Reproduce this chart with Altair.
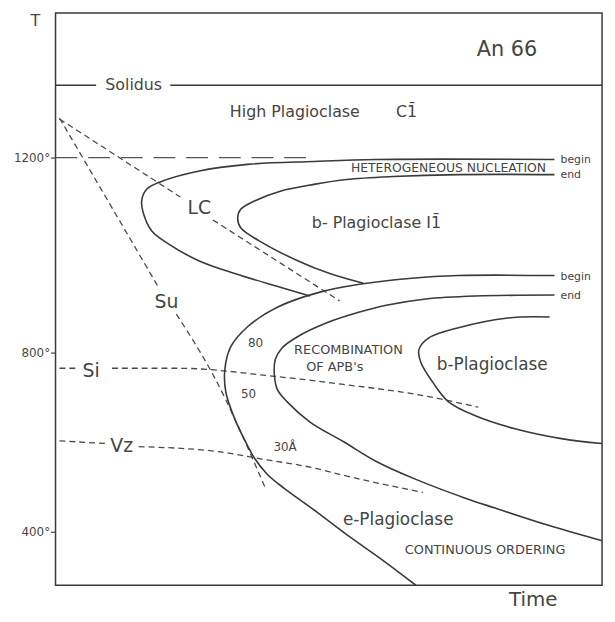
import altair as alt
import pandas as pd

# ---------------- data (time: arbitrary 0-100, temperature: °C) ----------------
HN_BEGIN_TIME = [91.30, 58.70, 47.28, 35.14, 26.09, 19.38, 16.67, 15.76, 16.12, 17.57, 20.65, 26.09, 32.79, 41.12, 46.56]
HN_BEGIN_TEMP = [1196, 1196, 1192, 1186, 1172, 1151, 1135, 1111, 1084, 1050, 1023, 989, 962, 934, 916]

HN_END_TIME = [91.30, 73.73, 61.78, 53.26, 47.28, 41.12, 36.41, 33.88, 33.33, 33.88, 38.22, 44.20, 50.18, 56.34]
HN_END_TEMP = [1165, 1165, 1161, 1155, 1145, 1131, 1111, 1094, 1076, 1056, 1023, 989, 962, 942]

APB_BEGIN_TIME = [91.30, 73.73, 64.67, 55.62, 48.37, 40.58, 35.14, 32.07, 30.98, 31.16, 32.79, 35.14,
                  36.41, 38.77, 41.85, 47.83, 53.80, 59.96, 65.94]
APB_BEGIN_TEMP = [958, 958, 952, 940, 924, 893, 853, 812, 762, 712, 652, 592,
                  564, 528, 497, 444, 389, 336, 281]

APB_END_TIME = [91.30, 76.81, 67.75, 60.51, 55.62, 49.64, 44.20, 41.49, 40.22, 40.04, 40.58, 42.39,
                46.56, 52.72, 58.70, 65.94, 75.00, 80.43, 90.04, 100]
APB_END_TEMP = [918, 916, 910, 897, 883, 861, 832, 810, 785, 751, 718, 690,
                645, 601, 557, 517, 475, 453, 415, 380]

BPLAG_TIME = [90.40, 82.79, 73.73, 68.30, 66.49, 66.85, 69.02, 71.92, 76.81, 84.06, 92.57, 100]
BPLAG_TEMP = [873, 871, 851, 830, 806, 778, 734, 690, 659, 630, 608, 597]

SOLIDUS_TEMP = 1348
SOLIDUS_LEFT_TIME = [0, 7.43]
SOLIDUS_RIGHT_TIME = [21.0, 100]

LINE_1200_TIME = [0, 47.5]
LINE_1200_TEMP = [1200, 1200]

LC_A_TIME = [0.72, 22.83]
LC_A_TEMP = [1279, 1119]
LC_B_TIME = [28.80, 51.99]
LC_B_TEMP = [1072, 906]

SU_A_TIME = [0.72, 18.84]
SU_A_TEMP = [1281, 934]
SU_B_TIME = [22.10, 28.80, 38.41]
SU_B_TEMP = [879, 751, 497]

SI_A_TIME = [0.72, 4.35]
SI_A_TEMP = [765, 765]
SI_B_TIME = [10.33, 22.46, 40.04, 52.72, 67.75, 77.36]
SI_B_TEMP = [765, 765, 747, 729, 703, 678]

VZ_A_TIME = [0.72, 9.24]
VZ_A_TEMP = [603, 597]
VZ_B_TIME = [15.22, 29.71, 37.50, 47.83, 52.72, 67.21]
VZ_B_TEMP = [590, 579, 563, 541, 526, 488]

Y_TICKS = [400, 800, 1200]
Y_DOMAIN = [281, 400, 800, 1200, 1496]
Y_RANGE = [578, 524, 343, 146, 0]

# labels: (text, time, temp)
BIG_LABELS = [("LC", 26.3, 1096), ("Su", 20.3, 904), ("Si", 6.5, 758), ("Vz", 12.1, 592)]
PHASE_CENTER = [("b-Plagioclase", 79.9, 773), ("e-Plagioclase", 62.7, 426)]
PHASE_LEFT = [("b- Plagioclase  I1\u0304", 46.9, 1066), ("High Plagioclase", 31.9, 1293), ("C1\u0304", 62.3, 1293)]
SOLIDUS_LABEL = [("Solidus", 14.3, 1348)]
TITLE_LABEL = [("An   66", 82.6, 1421)]
CAPS_SMALL = [("HETEROGENEOUS NUCLEATION", 71.9, 1179)]
CAPS_MED = [("RECOMBINATION", 53.6, 806), ("OF APB's", 51.1, 767), ("CONTINUOUS ORDERING", 78.6, 360)]
NUMBERS = [("80", 36.6, 820), ("50", 35.3, 707), ("30\u00c5", 42.0, 590)]
SIDE_LABELS = [("begin", 92.4, 1194), ("end", 92.4, 1165), ("begin", 92.4, 954), ("end", 92.4, 916)]

LINE_COLOR = "#3a3a3a"
TEXT_COLOR = "#454545"
FONT = "DejaVu Sans"


def curves(named):
    rows = []
    for name, ts, temps in named:
        for i, (t, temp) in enumerate(zip(ts, temps)):
            rows.append({"curve": name, "i": i, "t": t, "T": temp})
    return pd.DataFrame(rows)


def labels(items):
    return pd.DataFrame([{"label": s, "t": t, "T": temp} for s, t, temp in items])


X = alt.X(
    "t:Q",
    scale=alt.Scale(domain=[0, 100], nice=False, zero=False),
    axis=alt.Axis(
        title="Time", labels=False, ticks=False, domain=False, grid=False,
        titleX=482, titleY=14, titleAngle=0, titleAlign="center", titleBaseline="middle",
        titleFontSize=20, titleFontWeight="normal", titleColor=TEXT_COLOR, titleFont=FONT,
    ),
)
Y = alt.Y(
    "T:Q",
    scale=alt.Scale(domain=Y_DOMAIN, range=Y_RANGE, nice=False, zero=False),
    axis=alt.Axis(
        values=Y_TICKS, labelExpr="datum.value + '°'", grid=False, domain=False,
        tickSize=5, tickColor="#444", tickWidth=1.2, labelFontSize=12, labelColor=TEXT_COLOR,
        labelFont=FONT, labelPadding=1,
        title="T", titleAngle=0, titleX=-21, titleY=8, titleAlign="center", titleBaseline="middle",
        titleFontSize=16, titleFontWeight="normal", titleColor=TEXT_COLOR, titleFont=FONT,
    ),
)

solid_df = curves([
    ("hn_begin", HN_BEGIN_TIME, HN_BEGIN_TEMP),
    ("hn_end", HN_END_TIME, HN_END_TEMP),
    ("apb_begin", APB_BEGIN_TIME, APB_BEGIN_TEMP),
    ("apb_end", APB_END_TIME, APB_END_TEMP),
    ("bplag", BPLAG_TIME, BPLAG_TEMP),
    ("sol_l", SOLIDUS_LEFT_TIME, [SOLIDUS_TEMP, SOLIDUS_TEMP]),
    ("sol_r", SOLIDUS_RIGHT_TIME, [SOLIDUS_TEMP, SOLIDUS_TEMP]),
])

short_dash_df = curves([
    ("lc_a", LC_A_TIME, LC_A_TEMP), ("lc_b", LC_B_TIME, LC_B_TEMP),
    ("su_a", SU_A_TIME, SU_A_TEMP), ("su_b", SU_B_TIME, SU_B_TEMP),
    ("si_a", SI_A_TIME, SI_A_TEMP), ("si_b", SI_B_TIME, SI_B_TEMP),
    ("vz_a", VZ_A_TIME, VZ_A_TEMP), ("vz_b", VZ_B_TIME, VZ_B_TEMP),
])

long_dash_df = curves([("t1200", LINE_1200_TIME, LINE_1200_TEMP)])

solid = alt.Chart(solid_df).mark_line(
    interpolate="catmull-rom", color=LINE_COLOR, strokeWidth=1.6
).encode(x=X, y=Y, detail="curve:N", order="i:Q")

short_dash = alt.Chart(short_dash_df).mark_line(
    interpolate="monotone", color="#4a4a4a", strokeWidth=1.3, strokeDash=[6, 4]
).encode(x=X, y=Y, detail="curve:N", order="i:Q")

long_dash = alt.Chart(long_dash_df).mark_line(
    color="#555555", strokeWidth=1.3, strokeDash=[22, 11]
).encode(x=X, y=Y, detail="curve:N", order="i:Q")


def text_layer(items, size, align="center"):
    return alt.Chart(labels(items)).mark_text(
        fontSize=size, align=align, baseline="middle",
        font=FONT, color=TEXT_COLOR
    ).encode(x=X, y=Y, text="label:N")


chart = alt.layer(
    long_dash,
    short_dash,
    solid,
    text_layer(BIG_LABELS, 19),
    text_layer(PHASE_CENTER, 17),
    text_layer(PHASE_LEFT, 16, align="left"),
    text_layer(SOLIDUS_LABEL, 16),
    text_layer(TITLE_LABEL, 21),
    text_layer(CAPS_SMALL, 12.5),
    text_layer(CAPS_MED, 13),
    text_layer(NUMBERS, 12),
    text_layer(SIDE_LABELS, 11, align="left"),
).properties(
    width=552,
    height=578,
    autosize=alt.AutoSizeParams(type="none"),
    padding={"left": 48, "top": 2, "right": 5, "bottom": 26},
).configure(
    background="white",
    view=alt.ViewConfig(stroke="#3a3a3a", strokeWidth=1.5),
)

chart.save("out.html", embed_options={"renderer": "svg", "actions": False})
